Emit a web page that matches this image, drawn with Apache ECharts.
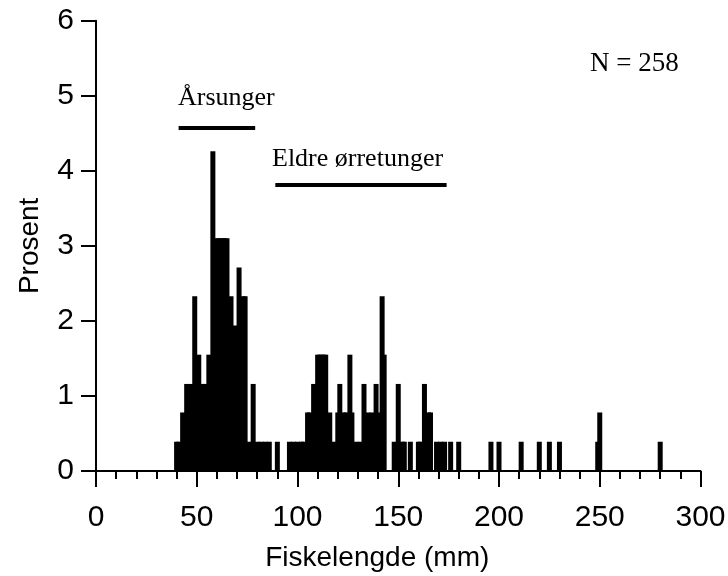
<!DOCTYPE html>
<html>
<head>
<meta charset="utf-8">
<script src="https://cdn.jsdelivr.net/npm/echarts/dist/echarts.min.js"></script>
<style>
html,body{margin:0;padding:0;background:#ffffff;}
#chart{width:728px;height:576px;}
</style>
</head>
<body>
<div id="chart"></div>
<script>
// Fish length (mm) of each histogram bar
const lengthsMm = [40,41,43,45,47,49,51,53,54,56,58,60,61,62,63,64,65,67,69,71,73,74,76,78,80,82,84,86,90,
  96,98,100,102,103,105,106,108,110,111,112,113,114,116,118,120,121,123,124,126,127,129,131,133,135,137,139,140,142,143,
  148,150,152,153,156,160,161,163,165,166,169,171,173,176,180,196,200,211,220,225,230,249,250,280];
// Percent of fish (N = 258) at each length
const percentFish = [0.39,0.39,0.78,1.16,1.16,2.33,1.55,1.16,1.16,1.55,4.26,3.10,3.10,3.10,3.10,3.10,3.10,2.33,1.94,2.71,2.33,2.33,0.39,1.16,0.39,0.39,0.39,0.39,0.39,
  0.39,0.39,0.39,0.39,0.39,0.78,0.78,1.16,1.55,1.55,1.55,1.55,1.55,0.78,0.39,0.78,1.16,0.78,0.78,1.55,0.78,0.39,0.39,1.16,0.78,0.78,1.16,0.78,2.33,1.55,
  0.39,1.16,0.39,0.39,0.39,0.39,0.39,1.16,0.78,0.78,0.39,0.39,0.39,0.39,0.39,0.39,0.39,0.39,0.39,0.39,0.39,0.39,0.78,0.39];

// Axis ticks
const xTickValues = [0,50,100,150,200,250,300];
const yTickValues = [0,1,2,3,4,5,6];

// Age-group length ranges (mm)
const groupNames = ['Årsunger','Eldre ørretunger'];
const groupFrom = [41, 89];
const groupTo = [79, 174];
const sampleLabel = 'N = 258';

const chart = echarts.init(document.getElementById('chart'), null, {renderer:'canvas'});

const sans = '"Liberation Sans", Arial, Helvetica, sans-serif';
const serif = '"Liberation Serif", "Times New Roman", serif';
const groupLevels = [4.57, 3.81];

const barData = lengthsMm.map((x,i)=>[x, percentFish[i]]);

const groupSeries = groupNames.map((name,i)=>({
  type:'line',
  name:name,
  data:[[groupFrom[i], groupLevels[i]],[groupTo[i], groupLevels[i]]],
  symbol:'none',
  lineStyle:{color:'#000', width:4},
  silent:true,
  z:5
}));

const option = {
  animation:false,
  backgroundColor:'#ffffff',
  grid:{left:96, right:27.5, top:20.7, bottom:105, containLabel:false, outerBoundsMode:'none'},
  xAxis:{
    type:'value',
    min:xTickValues[0], max:xTickValues[xTickValues.length-1],
    interval:xTickValues[1]-xTickValues[0],
    axisLine:{show:true, onZero:false, lineStyle:{color:'#000', width:2}},
    axisTick:{show:true, length:16, lineStyle:{color:'#000', width:2}},
    minorTick:{show:true, splitNumber:5, length:8, lineStyle:{color:'#000', width:2}},
    splitLine:{show:false},
    axisLabel:{fontSize:30, color:'#000', margin:32, fontFamily:sans, showMinLabel:true, showMaxLabel:true, hideOverlap:false},
    name:'Fiskelengde (mm)',
    nameLocation:'middle',
    nameGap:73,
    nameTextStyle:{fontSize:28, color:'#000', fontFamily:sans, padding:[0,42,0,0]}
  },
  yAxis:{
    type:'value',
    min:yTickValues[0], max:yTickValues[yTickValues.length-1],
    interval:yTickValues[1]-yTickValues[0],
    axisLine:{show:true, lineStyle:{color:'#000', width:2}},
    axisTick:{show:true, length:15, lineStyle:{color:'#000', width:2}},
    splitLine:{show:false},
    axisLabel:{fontSize:30, color:'#000', margin:22, fontFamily:sans, showMinLabel:true, showMaxLabel:true, hideOverlap:false},
    name:'Prosent',
    nameLocation:'middle',
    nameGap:52,
    nameTextStyle:{fontSize:28, color:'#000', fontFamily:sans}
  },
  series:[
    {
      type:'bar',
      data:barData,
      barWidth:5,
      itemStyle:{color:'#000'},
      silent:true,
      z:3
    }
  ].concat(groupSeries),
  graphic:[
    {type:'text', x:590, y:64, style:{text:sampleLabel, font:'27px ' + serif, fill:'#000', verticalAlign:'middle', align:'left'}},
    {type:'text', x:178, y:98, style:{text:groupNames[0], font:'26px ' + serif, fill:'#000', verticalAlign:'middle', align:'left'}},
    {type:'text', x:272, y:159, style:{text:groupNames[1], font:'26px ' + serif, fill:'#000', verticalAlign:'middle', align:'left'}}
  ]
};

chart.setOption(option);
</script>
</body>
</html>
